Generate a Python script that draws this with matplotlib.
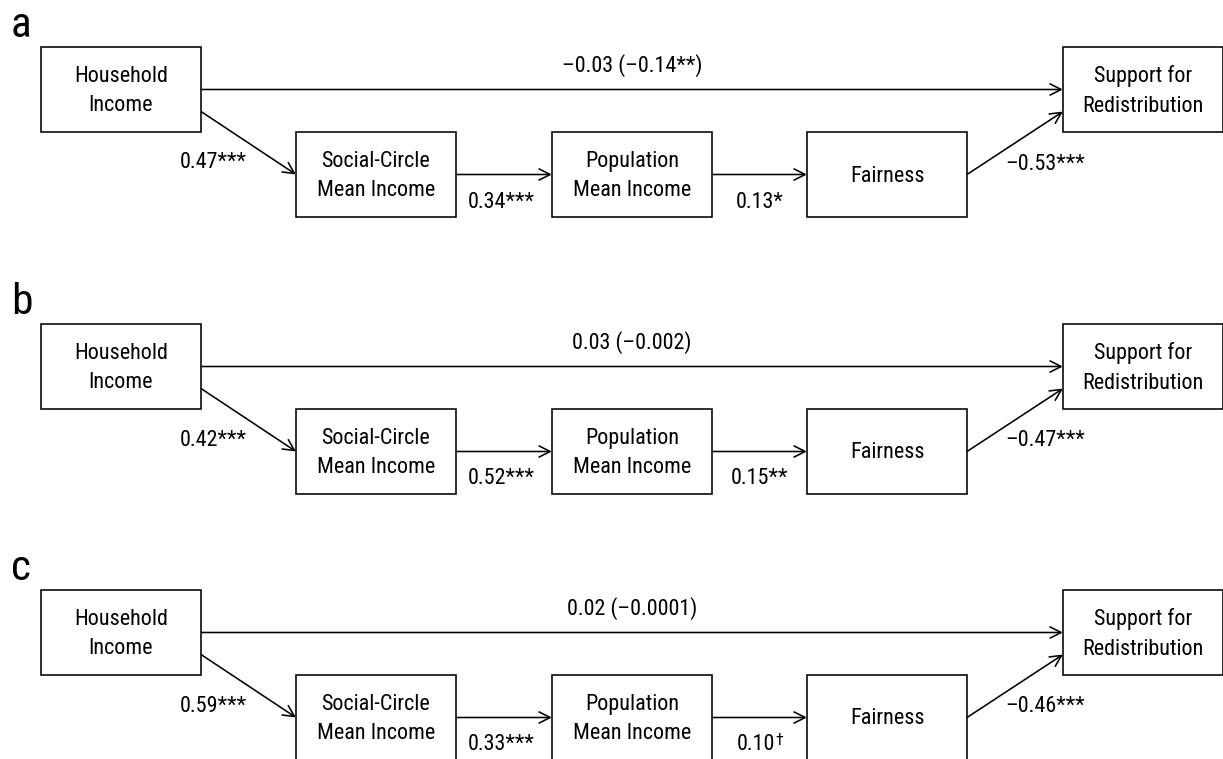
import os
import matplotlib
matplotlib.use("Agg")
import matplotlib.pyplot as plt
import matplotlib.font_manager as fm
from matplotlib.patches import Rectangle, FancyArrowPatch
from matplotlib.textpath import TextPath

# ---- path-model content ---------------------------------------------------
panel_letters = ["a", "b", "c"]
node_names = [
    "Household\nIncome",
    "Social-Circle\nMean Income",
    "Population\nMean Income",
    "Fairness",
    "Support for\nRedistribution",
]
# direct effect (total effect in parentheses)
direct_effect = ["–0.03 (–0.14**)", "0.03 (–0.002)", "0.02 (–0.0001)"]
# serial indirect path coefficients
path_income_social = ["0.47***", "0.42***", "0.59***"]
path_social_population = ["0.34***", "0.52***", "0.33***"]
path_population_fairness = ["0.13*", "0.15**", "0.10"]
path_population_fairness_mark = ["", "", "†"]   # superscript marker
path_fairness_support = ["–0.53***", "–0.47***", "–0.46***"]

# ---- layout (canvas units = pixels, y downward) -----------------------------
W, H = 1223, 759
DPI = 100
panel_top = [0, 277, 543]
box_w, box_h = 160, 85
col_left = [41, 296, 552, 807, 1063]
row_top = {"upper": 47, "lower": 132}
node_row = ["upper", "lower", "lower", "lower", "upper"]


def pick_font():
    """Prefer a condensed grotesque face; fall back to a regular sans."""
    fonts = fm.fontManager.ttflist

    def regular(f):
        w = f.weight if isinstance(f.weight, int) else 400
        return f.style == "normal" and 350 <= w <= 450

    def base(f):
        return os.path.basename(f.fname).lower().replace("-", "").replace("_", "")

    rules = [
        lambda f: f.name == "Liberation Sans Narrow",
        lambda f: f.name == "Roboto Condensed",
        lambda f: "roboto" in base(f) and "condensed" in base(f),
        lambda f: "opensans" in base(f) and "condensed" in base(f),
        lambda f: base(f) == "dejavusanscondensed.ttf",
        lambda f: "narrow" in base(f) or "condensed" in base(f),
        lambda f: f.name == "Roboto",
    ]
    for rule in rules:
        for f in fonts:
            if rule(f) and regular(f):
                return fm.FontProperties(fname=f.fname)
    return fm.FontProperties(family="DejaVu Sans")


fp = pick_font()

# size text so that glyph proportions approximate the figure's lettering
w_em = TextPath((0, 0), "Household", size=1, prop=fp).get_extents().width
cap_em = TextPath((0, 0), "H", size=1, prop=fp).get_extents().height
px = ((92.0 / w_em) * (15.5 / cap_em)) ** 0.5
fs = px * 72.0 / DPI
cap_px = cap_em * px
asc_em = TextPath((0, 0), "b", size=1, prop=fp).get_extents().height
fs_letter = (33.0 / asc_em) * 72.0 / DPI

# superscript marker geometry
mark_scale = 0.72
dag_ext = TextPath((0, 0), "†", size=1, prop=fp).get_extents()

lw = 1.15

fig = plt.figure(figsize=(W / DPI, H / DPI), dpi=DPI)
ax = fig.add_axes([0, 0, 1, 1])
ax.set_xlim(0, W)
ax.set_ylim(H, 0)
ax.axis("off")


def txt(x, y, s, size=None, **kw):
    p = fp.copy()
    p.set_size(fs if size is None else size)
    return ax.text(x, y, s, fontproperties=p, **kw)


def arrow(p0, p1):
    ax.add_patch(FancyArrowPatch(
        p0, p1, arrowstyle="->,head_length=0.6,head_width=0.3",
        mutation_scale=14, lw=lw, color="black",
        shrinkA=0, shrinkB=0, joinstyle="miter", capstyle="butt"))


marks = []
for k, letter in enumerate(panel_letters):
    top = panel_top[k]
    txt(11, top + 37, letter, size=fs_letter, ha="left", va="baseline")

    boxes = []
    for j, name in enumerate(node_names):
        x0 = col_left[j]
        y0 = top + row_top[node_row[j]]
        ax.add_patch(Rectangle((x0, y0), box_w, box_h, fill=False,
                               lw=lw, ec="black"))
        txt(x0 + box_w / 2, y0 + box_h / 2 + 1.5, name,
            ha="center", va="center", linespacing=1.55)
        boxes.append((x0, y0))

    def right(j):
        return boxes[j][0] + box_w

    def left(j):
        return boxes[j][0]

    def mid(j):
        return boxes[j][1] + box_h / 2

    # direct path
    arrow((right(0), mid(0)), (left(4), mid(4)))
    txt((right(0) + left(4)) / 2, mid(0) - 24, direct_effect[k],
        ha="center", va="center")

    # household income -> social-circle income
    arrow((right(0), mid(0) + 22), (left(1), mid(1)))
    txt(247, top + 163, path_income_social[k], ha="right", va="center")

    # social-circle -> population
    arrow((right(1), mid(1)), (left(2), mid(2)))
    txt((right(1) + left(2)) / 2 - 3, top + 202, path_social_population[k],
        ha="center", va="center")

    # population -> fairness
    arrow((right(2), mid(2)), (left(3), mid(3)))
    has_mark = bool(path_population_fairness_mark[k])
    y_lab = top + 202
    t = txt((right(2) + left(3)) / 2 - (4 if has_mark else 0),
            y_lab, path_population_fairness[k], ha="center", va="center")
    if has_mark:
        marks.append((t, path_population_fairness_mark[k]))

    # fairness -> support for redistribution
    arrow((right(3), mid(3)), (left(4), mid(4) + 22))
    txt(1005, top + 164, path_fairness_support[k], ha="left", va="center")

# superscript markers: top of the glyph level with the top of the digits
fig.canvas.draw()
renderer = fig.canvas.get_renderer()
mark_px = px * mark_scale
for t, m in marks:
    bb = t.get_window_extent(renderer).transformed(ax.transData.inverted())
    x_end = max(bb.x0, bb.x1)
    # baseline of the coefficient text (va=center -> use descent-free estimate)
    text_top = min(bb.y0, bb.y1)
    text_bottom = max(bb.y0, bb.y1)
    # matplotlib's box spans ascent..descent; digits reach cap height
    _, h_lp, d_lp = renderer.get_text_width_height_descent("lp", t.get_fontproperties(), ismath=False)
    baseline = text_bottom - d_lp
    digit_top = baseline - cap_px
    mark_baseline = digit_top - 1 + dag_ext.y1 * mark_px
    txt(x_end + 1, mark_baseline, m, size=fs * mark_scale,
        ha="left", va="baseline")

fig.savefig("out.png", dpi=DPI)
